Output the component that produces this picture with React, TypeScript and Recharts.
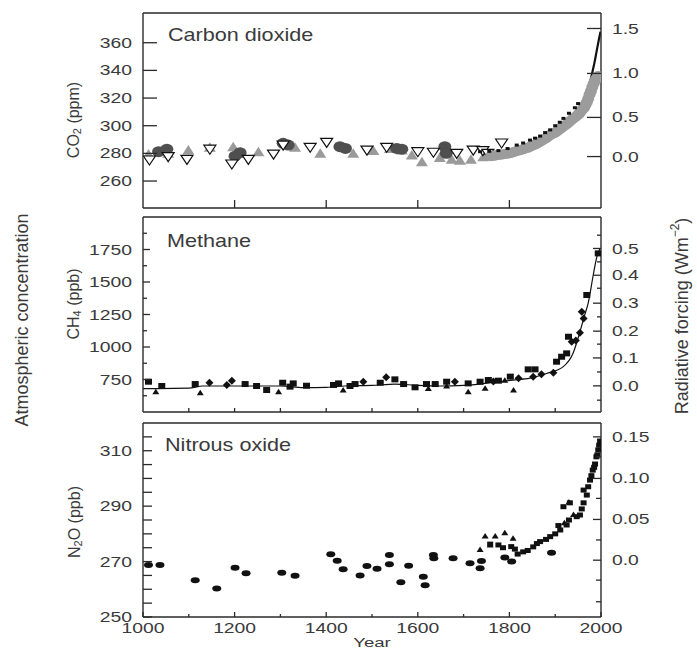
import React from 'react';
import { ComposedChart, Scatter, Line, XAxis, YAxis } from 'recharts';

type Pt = [number, number];

// ---- Carbon dioxide (ppm) ----
const co2GreyTriangles: Pt[] = [
  [1012, 279.5], [1055, 280], [1099, 282.4], [1146, 284.4], [1197, 284.8], [1252, 281.2],
  [1332, 284.4], [1387, 280], [1459, 280], [1503, 282], [1539, 283.6], [1565, 282.5],
  [1587, 278.8], [1609, 274], [1648, 277.1], [1674, 275.7], [1692, 275], [1716, 275.7],
  [1743, 277.6], [1765, 279],
];
const co2Circles: Pt[] = [
  [1034, 281.2], [1052, 283], [1201, 278], [1212, 280.5], [1306, 287.3], [1317, 286],
  [1430, 284.8], [1442, 283.6], [1554, 283.6], [1565, 283], [1659, 284.8], [1662, 280],
];
const co2OpenTriangles: Pt[] = [
  [1014, 275.2], [1055, 277.6], [1096, 275.7], [1146, 283], [1194, 272.3], [1230, 275.7],
  [1285, 279.5], [1306, 286], [1365, 284.4], [1401, 288], [1489, 282.4], [1532, 284.4],
  [1600, 281.2], [1634, 280.8], [1685, 280], [1721, 282.4], [1742, 282], [1753, 280], [1783, 287.5],
];
const co2LawDome: Pt[] = [
  [1760, 278], [1765, 278.2], [1770, 278.5], [1775, 278.8], [1780, 279], [1785, 279.2],
  [1790, 279.5], [1795, 279.8], [1800, 280], [1805, 280.5], [1810, 281], [1815, 281.5],
  [1820, 282], [1825, 282.5], [1830, 283], [1835, 283.5], [1840, 284], [1845, 284.8],
  [1850, 285.5], [1855, 286.2], [1860, 287], [1865, 288], [1870, 289], [1875, 290],
  [1880, 291], [1885, 292.2], [1890, 293.5], [1895, 294.2], [1900, 295], [1905, 296.2],
  [1910, 297.5], [1915, 298.8], [1920, 300], [1925, 301], [1930, 302.5], [1935, 304],
  [1940, 305.5], [1945, 306.5], [1950, 308], [1953, 309], [1956, 310.5], [1960, 312],
  [1963, 313], [1966, 315], [1969, 317], [1972, 319.5], [1975, 322.5], [1978, 325],
  [1981, 328], [1984, 330.5], [1987, 332.5], [1990, 334], [1992, 335], [1994, 336],
];
const co2Siple: Pt[] = [
  [1736, 281.2], [1756, 281.5], [1776, 282], [1796, 283.5], [1816, 286], [1830, 287.5],
  [1845, 289.6], [1856, 291], [1867, 292.5], [1878, 295], [1889, 297], [1900, 300], [1910, 302.5],
  [1918, 305.3], [1930, 309], [1943, 313], [1950, 316],
];
const co2MaunaLoa: Pt[] = [
  [1958, 315], [1962, 318], [1966, 321], [1970, 325], [1974, 330], [1978, 334], [1982, 340],
  [1986, 346], [1990, 353], [1994, 360], [1999, 368],
];
const co2Ticks = [260, 280, 300, 320, 340, 360];
const co2ForcingAt = [277.7, 306, 337.8, 370.3];
const co2ForcingLabels = ['0.0', '0.5', '1.0', '1.5'];

// ---- Methane (ppb) ----
const ch4Squares: Pt[] = [
  [1012, 733], [1041, 700], [1114, 715], [1223, 715], [1248, 700], [1270, 669], [1305, 725],
  [1321, 695], [1328, 720], [1357, 702], [1416, 708], [1427, 720], [1452, 700], [1463, 715],
  [1518, 725], [1550, 751], [1569, 715], [1594, 690], [1619, 715], [1638, 715], [1663, 733],
  [1710, 720], [1736, 733], [1754, 746], [1776, 741], [1802, 772], [1841, 828], [1856, 828],
  [1903, 887], [1914, 925], [1925, 951], [1929, 1079], [1969, 1400], [1994, 1720],
];
const ch4Triangles: Pt[] = [
  [1028, 656], [1125, 648], [1296, 656], [1437, 669], [1623, 680], [1663, 700], [1710, 656],
  [1747, 682], [1790, 745], [1809, 669],
];
const ch4Diamonds: Pt[] = [
  [1145, 725], [1183, 708], [1194, 741], [1481, 733], [1531, 767], [1681, 733], [1765, 735],
  [1820, 760], [1852, 772], [1870, 790], [1896, 802], [1936, 1040], [1945, 1050], [1954, 1110],
  [1958, 1271], [1962, 1220],
];
const ch4Fit: Pt[] = [
  [1000, 680], [1100, 683], [1130, 700], [1300, 700], [1350, 688], [1400, 690], [1450, 702],
  [1500, 705], [1550, 715], [1600, 705], [1650, 700], [1700, 705], [1736, 715], [1780, 735],
  [1808, 745], [1845, 760], [1881, 796], [1917, 847], [1939, 952], [1954, 1116], [1963, 1230],
  [1972, 1337], [1983, 1552], [1990, 1680], [1998, 1760],
];
const ch4Ticks = [625, 750, 875, 1000, 1125, 1250, 1375, 1500, 1625, 1750, 1875];
const ch4Labelled = [750, 1000, 1250, 1500, 1750];
const ch4ForcingAt = [591, 701, 808, 916, 1022, 1122, 1232, 1337, 1452, 1552, 1655, 1758, 1860];
const ch4ForcingLabels = ['', '0.0', '', '0.1', '', '0.2', '', '0.3', '', '0.4', '', '0.5', ''];

// ---- Nitrous oxide (ppb) ----
const n2oEllipses: Pt[] = [
  [1012, 268.8], [1037, 268.8], [1114, 263.3], [1161, 260.3], [1201, 267.8], [1225, 265.8],
  [1303, 266], [1332, 264.9], [1410, 272.6], [1424, 270.3], [1437, 267.2], [1474, 265],
  [1489, 268.4], [1511, 267.4], [1538, 272.4], [1538, 269], [1563, 262.5], [1580, 268.5],
  [1612, 264.5], [1616, 261.5], [1634, 272.4], [1635, 271.2], [1677, 271.2], [1714, 269.4],
  [1736, 267.6], [1739, 270.2], [1790, 271.5], [1805, 270], [1892, 273.2],
];
const n2oTriangles: Pt[] = [
  [1736, 274.4], [1747, 279.2], [1758, 276], [1769, 279.2], [1790, 280.4], [1808, 278.4],
  [1920, 284], [1930, 291.5], [1940, 287],
];
const n2oSquares: Pt[] = [
  [1758, 276.3], [1776, 276], [1786, 275], [1804, 275.4], [1812, 274.5], [1818, 272.7],
  [1830, 273.5], [1840, 274], [1852, 275.3], [1860, 276.5], [1867, 277.2], [1880, 278],
  [1889, 279], [1900, 280], [1907, 283], [1911, 281.4], [1918, 289.8], [1925, 283.2],
  [1930, 285], [1932, 291.2], [1947, 286.2], [1954, 286.8], [1958, 289], [1962, 291.2],
  [1962, 295.8], [1969, 294], [1972, 297], [1976, 299.4], [1979, 301], [1982, 303],
  [1985, 304], [1987, 305.2], [1990, 307.8], [1992, 308.5], [1994, 310.3], [1996, 312], [1998, 313.5],
];
const n2oTicks = [250, 255, 260, 265, 270, 275, 280, 285, 290, 295, 300, 305, 310, 315];
const n2oLabelled = [250, 270, 290, 310];
const n2oForcingAt = [255.5, 263.3, 270.5, 277.8, 285.2, 292.8, 300, 307.8, 315];
const n2oForcingLabels = ['', '', '0.0', '', '0.05', '', '0.10', '', '0.15'];

// ---- Year axis ----
const co2YearTicks = [1200, 1400, 1600, 1800];
const centuryTicks = [1100, 1200, 1300, 1400, 1500, 1600, 1700, 1800, 1900];
const n2oTopTicks = [1400, 1600, 1800];
const yearTicks = [1000, 1100, 1200, 1300, 1400, 1500, 1600, 1700, 1800, 1900, 2000];
const yearLabelled = [1000, 1200, 1400, 1600, 1800, 2000];

const FONT = '"Liberation Sans", Arial, Helvetica, sans-serif';
const INK = '#2a2a2a';
const TEXT = '#3a3a3a';
const axisLine = { stroke: INK, strokeWidth: 1.4 };

const pts = (a: Pt[]) => a.map(([year, v]) => ({ year, v }));
const labelsOf = (values: number[]) => new Map(values.map((v) => [v, String(v)]));
const labelsAt = (at: number[], labels: string[]) =>
  new Map(at.map((v, i) => [v, labels[i]] as [number, string]).filter(([, l]) => l !== ''));

type TickSpec = { ticks: number[]; labels: Map<number, string>; major: number; minor: number };

function Wide({ x, y, anchor = 'start', size = 14, sx = 1.38, dy, children }: any) {
  return (
    <text transform={`translate(${x},${y}) scale(${sx},1)`} textAnchor={anchor} fontSize={size}
      fontFamily={FONT} fill={TEXT} dy={dy}>
      {children}
    </text>
  );
}

const yTick = (side: 'left' | 'right', spec: TickSpec) => (p: any) => {
  const label = spec.labels.get(p.payload.value);
  const len = label !== undefined ? spec.major : spec.minor;
  const dir = side === 'left' ? 1 : -1;
  return (
    <g>
      {len > 0 && <line x1={p.x} x2={p.x + dir * len} y1={p.y} y2={p.y} stroke={INK} strokeWidth={1.3} />}
      {label !== undefined && (
        <Wide x={p.x - dir * 11} y={p.y} dy="0.36em" anchor={side === 'left' ? 'end' : 'start'}>{label}</Wide>
      )}
    </g>
  );
};

const xTick = (side: 'top' | 'bottom', spec: TickSpec) => (p: any) => {
  const label = spec.labels.get(p.payload.value);
  const len = label !== undefined || spec.labels.size === 0 ? spec.major : spec.minor;
  const dir = side === 'bottom' ? -1 : 1;
  return (
    <g>
      <line x1={p.x} x2={p.x} y1={p.y} y2={p.y + dir * len} stroke={INK} strokeWidth={1.3} />
      {side === 'bottom' && label !== undefined && (
        <Wide x={p.x} y={p.y + 11} dy="0.36em" anchor="middle">{label}</Wide>
      )}
    </g>
  );
};

function Panel({ top, height, topH, bottomH, domain, left, right, xBottom, xTop, children }: any) {
  return (
    <div style={{ position: 'absolute', left: 0, top }}>
      <ComposedChart width={697} height={height} margin={{ top: 0, right: 0, bottom: 0, left: 0 }}>
        <XAxis xAxisId="b" dataKey="year" type="number" domain={[1000, 2000]} allowDataOverflow
          height={bottomH} ticks={xBottom.ticks} interval={0} tickSize={0} tickMargin={0}
          tickLine={false} axisLine={axisLine} tick={xTick('bottom', xBottom)} />
        <XAxis xAxisId="t" orientation="top" type="number" domain={[1000, 2000]} allowDataOverflow
          height={topH} ticks={xTop ? xTop.ticks : undefined} interval={0} tickSize={0} tickMargin={0}
          tickLine={false} axisLine={axisLine} tick={xTop ? xTick('top', xTop) : false} />
        <YAxis yAxisId="l" dataKey="v" type="number" domain={domain} allowDataOverflow width={143}
          ticks={left.ticks} interval={0} tickSize={0} tickMargin={0} tickLine={false}
          axisLine={axisLine} tick={yTick('left', left)} />
        <YAxis yAxisId="r" orientation="right" type="number" domain={domain} allowDataOverflow width={96}
          ticks={right.ticks} interval={0} tickSize={0} tickMargin={0} tickLine={false}
          axisLine={axisLine} tick={yTick('right', right)} />
        {children}
      </ComposedChart>
    </div>
  );
}

const greyTri = (p: any) => (
  <polygon points={`${p.cx - 6},${p.cy + 4.5} ${p.cx + 6},${p.cy + 4.5} ${p.cx},${p.cy - 5}`} fill="#9a9a9a" />
);
const darkCircle = (p: any) => <ellipse cx={p.cx} cy={p.cy} rx={6.5} ry={5.5} fill="#4f4f4f" />;
const openTri = (p: any) => (
  <polygon points={`${p.cx - 6},${p.cy - 4} ${p.cx + 6},${p.cy - 4} ${p.cx},${p.cy + 5}`}
    fill="#fff" stroke="#111" strokeWidth={1.2} />
);
const greyBlob = (p: any) => <ellipse cx={p.cx} cy={p.cy} rx={6} ry={5} fill="#9c9c9c" />;
const blackDot = (p: any) => <rect x={p.cx - 2} y={p.cy - 1.5} width={4} height={3} fill="#111" />;
const square = (p: any) => <rect x={p.cx - 3.5} y={p.cy - 3} width={7} height={6} fill="#111" />;
const smallSquare = (p: any) => <rect x={p.cx - 3} y={p.cy - 2.5} width={6} height={5} fill="#111" />;
const triangle = (p: any) => (
  <polygon points={`${p.cx - 3.5},${p.cy + 2.5} ${p.cx + 3.5},${p.cy + 2.5} ${p.cx},${p.cy - 3}`} fill="#111" />
);
const diamond = (p: any) => (
  <polygon points={`${p.cx},${p.cy - 4} ${p.cx + 4},${p.cy} ${p.cx},${p.cy + 4} ${p.cx - 4},${p.cy}`} fill="#111" />
);
const blob = (p: any) => <ellipse cx={p.cx} cy={p.cy} rx={4.5} ry={3} fill="#111" />;

const ids = { xAxisId: 'b', yAxisId: 'l', isAnimationActive: false };

export default function App() {
  return (
    <div style={{ position: 'absolute', left: 0, top: 0, width: 697, height: 652, background: '#fff', overflow: 'hidden' }}>
      <Panel top={0} height={216} topH={13} bottomH={8} domain={[240.5, 381.5]}
        left={{ ticks: co2Ticks, labels: labelsOf(co2Ticks), major: 14, minor: 14 }}
        right={{ ticks: co2ForcingAt, labels: labelsAt(co2ForcingAt, co2ForcingLabels), major: 14, minor: 14 }}
        xBottom={{ ticks: co2YearTicks, labels: new Map(), major: 8, minor: 8 }}>
        <Scatter {...ids} data={pts(co2GreyTriangles)} shape={greyTri} />
        <Scatter {...ids} data={pts(co2Circles)} shape={darkCircle} />
        <Scatter {...ids} data={pts(co2OpenTriangles)} shape={openTri} />
        <Scatter {...ids} data={pts(co2LawDome)} shape={greyBlob} />
        <Scatter {...ids} data={pts(co2Siple)} shape={blackDot} />
        <Line {...ids} data={pts(co2MaunaLoa)} dataKey="v" type="monotone" stroke="#111" strokeWidth={2.2} dot={false} />
      </Panel>

      <Panel top={216} height={201} topH={1} bottomH={5} domain={[500, 2000]}
        left={{ ticks: ch4Ticks, labels: labelsOf(ch4Labelled), major: 7, minor: 4 }}
        right={{ ticks: ch4ForcingAt, labels: labelsAt(ch4ForcingAt, ch4ForcingLabels), major: 8, minor: 4 }}
        xBottom={{ ticks: centuryTicks, labels: new Map(), major: 4, minor: 4 }}
        xTop={{ ticks: centuryTicks, labels: new Map(), major: 4, minor: 4 }}>
        <Line {...ids} data={pts(ch4Fit)} dataKey="v" type="monotone" stroke="#111" strokeWidth={1.2} dot={false} />
        <Scatter {...ids} data={pts(ch4Squares)} shape={square} />
        <Scatter {...ids} data={pts(ch4Triangles)} shape={triangle} />
        <Scatter {...ids} data={pts(ch4Diamonds)} shape={diamond} />
      </Panel>

      <Panel top={417} height={235} topH={6} bottomH={35} domain={[250, 320]}
        left={{ ticks: n2oTicks, labels: labelsOf(n2oLabelled), major: 9, minor: 9 }}
        right={{ ticks: n2oForcingAt, labels: labelsAt(n2oForcingAt, n2oForcingLabels), major: 8, minor: 5 }}
        xBottom={{ ticks: yearTicks, labels: labelsOf(yearLabelled), major: 5, minor: 3 }}
        xTop={{ ticks: n2oTopTicks, labels: new Map(), major: 4, minor: 4 }}>
        <Scatter {...ids} data={pts(n2oEllipses)} shape={blob} />
        <Scatter {...ids} data={pts(n2oTriangles)} shape={triangle} />
        <Scatter {...ids} data={pts(n2oSquares)} shape={smallSquare} />
      </Panel>

      <svg width={697} height={652} style={{ position: 'absolute', left: 0, top: 0, pointerEvents: 'none' }}>
        <Wide x={168} y={41} size={18} sx={1.2}>Carbon dioxide</Wide>
        <Wide x={167} y={247} size={18} sx={1.2}>Methane</Wide>
        <Wide x={165} y={451} size={18} sx={1.2}>Nitrous oxide</Wide>
        <Wide x={372} y={647} size={13.5} anchor="middle">Year</Wide>
        <g fontFamily={FONT} fill={TEXT} textAnchor="middle" dominantBaseline="central">
          <text transform="translate(73,120) rotate(-90)" fontSize={16}>
            CO<tspan dy={4} fontSize={11}>2</tspan><tspan dy={-4}>{'  (ppm)'}</tspan>
          </text>
          <text transform="translate(73,304) rotate(-90)" fontSize={16}>
            CH<tspan dy={4} fontSize={11}>4</tspan><tspan dy={-4}>{'  (ppb)'}</tspan>
          </text>
          <text transform="translate(74,522) rotate(-90)" fontSize={16}>
            N<tspan dy={4} fontSize={11}>2</tspan><tspan dy={-4}>{'O  (ppb)'}</tspan>
          </text>
          <text transform="translate(22,320) rotate(-90)" fontSize={18}>Atmospheric concentration</text>
          <text transform="translate(682,316) rotate(-90)" fontSize={18}>
            {'Radiative forcing  (Wm'}<tspan dy={-7} fontSize={12}>−2</tspan><tspan dy={7}>)</tspan>
          </text>
        </g>
      </svg>
    </div>
  );
}
